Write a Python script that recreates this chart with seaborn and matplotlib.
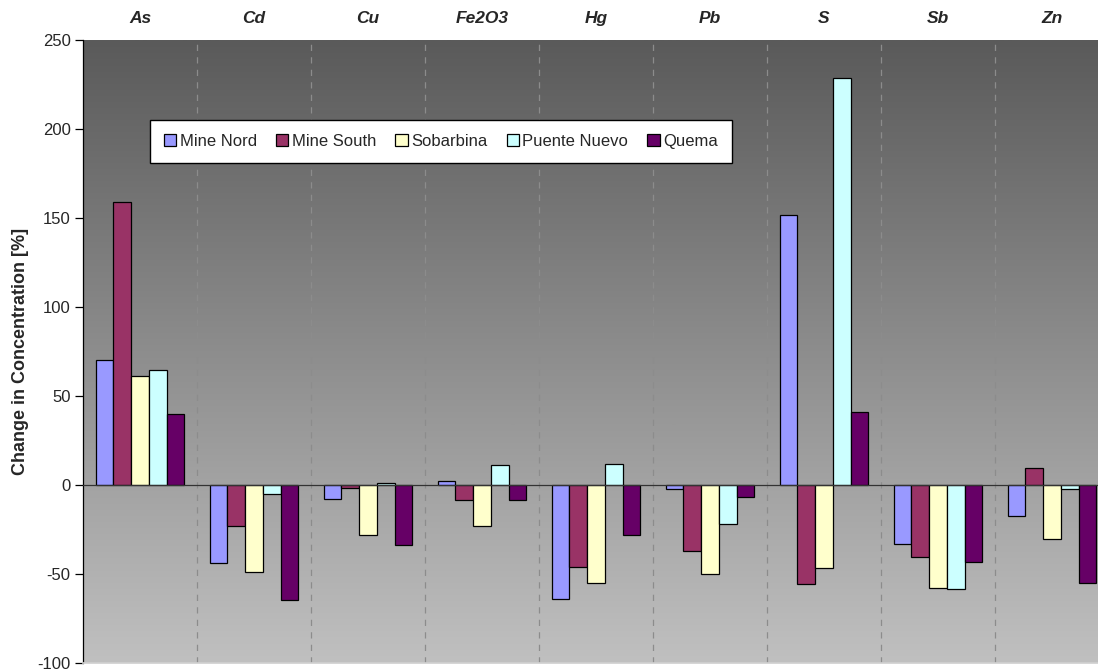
import numpy as np
import pandas as pd
import matplotlib
matplotlib.use("Agg")
import matplotlib.pyplot as plt
import seaborn as sns

# Elements and sampling sites
elements = ["As", "Cd", "Cu", "Fe2O3", "Hg", "Pb", "S", "Sb", "Zn"]
sites = ["Mine Nord", "Mine South", "Sobarbina", "Puente Nuevo", "Quema"]

# Change in concentration [%] per site, one value per element
mine_nord = [70.2, -44.0, -7.9, 2.0, -64.3, -2.0, 151.7, -33.0, -17.2]
mine_south = [158.8, -23.2, -1.9, -8.3, -46.0, -37.1, -55.6, -40.2, 9.6]
sobarbina = [61.2, -49.0, -28.3, -22.8, -55.0, -50.0, -46.7, -58.0, -30.4]
puente_nuevo = [64.8, -5.0, 1.4, 11.0, 11.6, -22.0, 228.6, -58.2, -2.4]
quema = [39.7, -64.6, -33.7, -8.7, -28.0, -6.5, 41.2, -43.1, -55.0]

site_colors = ["#9999ff", "#993366", "#ffffcc", "#ccffff", "#660066"]

series = [mine_nord, mine_south, sobarbina, puente_nuevo, quema]
df = pd.DataFrame(
    [(el, site, v) for site, vals in zip(sites, series) for el, v in zip(elements, vals)],
    columns=["element", "site", "change"],
)

sns.set_theme(style="white")
plt.rcParams["font.family"] = ["Liberation Sans", "DejaVu Sans"]
plt.rcParams["axes.unicode_minus"] = False

fig = plt.figure(figsize=(10.98, 6.69), dpi=100)
ax = fig.add_axes([83 / 1098, 6 / 669, (1109 - 83) / 1098, 623 / 669])

# Vertical grey gradient behind the bars: dark at the top, light at the bottom
grad = np.linspace(0, 1, 256).reshape(-1, 1)
cmap = matplotlib.colors.LinearSegmentedColormap.from_list("bg", ["#5a5a5a", "#c0c0c0"])
ax.imshow(grad, cmap=cmap, aspect="auto", extent=(-0.5, 8.5, -100, 250),
          origin="upper", zorder=0, interpolation="bilinear")

sns.barplot(data=df, x="element", y="change", hue="site", order=elements,
            hue_order=sites, palette=site_colors, width=0.777, dodge=True,
            edgecolor="black", linewidth=0.9, saturation=1, ax=ax, zorder=3,
            errorbar=None)

ax.set_xlim(-0.5, 8.5)
ax.set_ylim(-100, 250)
ax.set_yticks(np.arange(-100, 251, 50))

# Dashed separators between element groups and the zero line
for b in np.arange(0.5, 8.5, 1.0):
    ax.axvline(b, color="#8c8c8c", linestyle=(0, (5, 5)), linewidth=0.9, zorder=1)
ax.axhline(0, color="#333333", linewidth=0.9, zorder=4)

# Element names along the top
ax.xaxis.tick_top()
ax.tick_params(axis="x", length=0, pad=10)
for lbl in ax.get_xticklabels():
    lbl.set_fontweight("bold")
    lbl.set_fontstyle("italic")
    lbl.set_fontsize(12.5)
ax.set_xlabel("")

ax.tick_params(axis="y", left=True, length=6, width=0.9, color="black",
               labelsize=12, pad=3, direction="out")
ax.set_ylabel("Change in Concentration [%]", fontsize=13, fontweight="bold", labelpad=6)

for side in ["top", "right"]:
    ax.spines[side].set_visible(False)
ax.spines["left"].set_color("black")
ax.spines["left"].set_linewidth(0.9)
ax.spines["bottom"].set_color("#d0d0d0")

leg = ax.legend(loc="upper left", bbox_to_anchor=(0.065, 0.872), ncol=5,
                frameon=True, fancybox=False, edgecolor="black", framealpha=1,
                fontsize=12, handlelength=0.75, handleheight=0.75,
                handletextpad=0.2, columnspacing=1.15, borderaxespad=0,
                borderpad=0.85)
leg.get_frame().set_linewidth(1.0)
leg.set_zorder(6)

fig.savefig("out.png", dpi=100)
